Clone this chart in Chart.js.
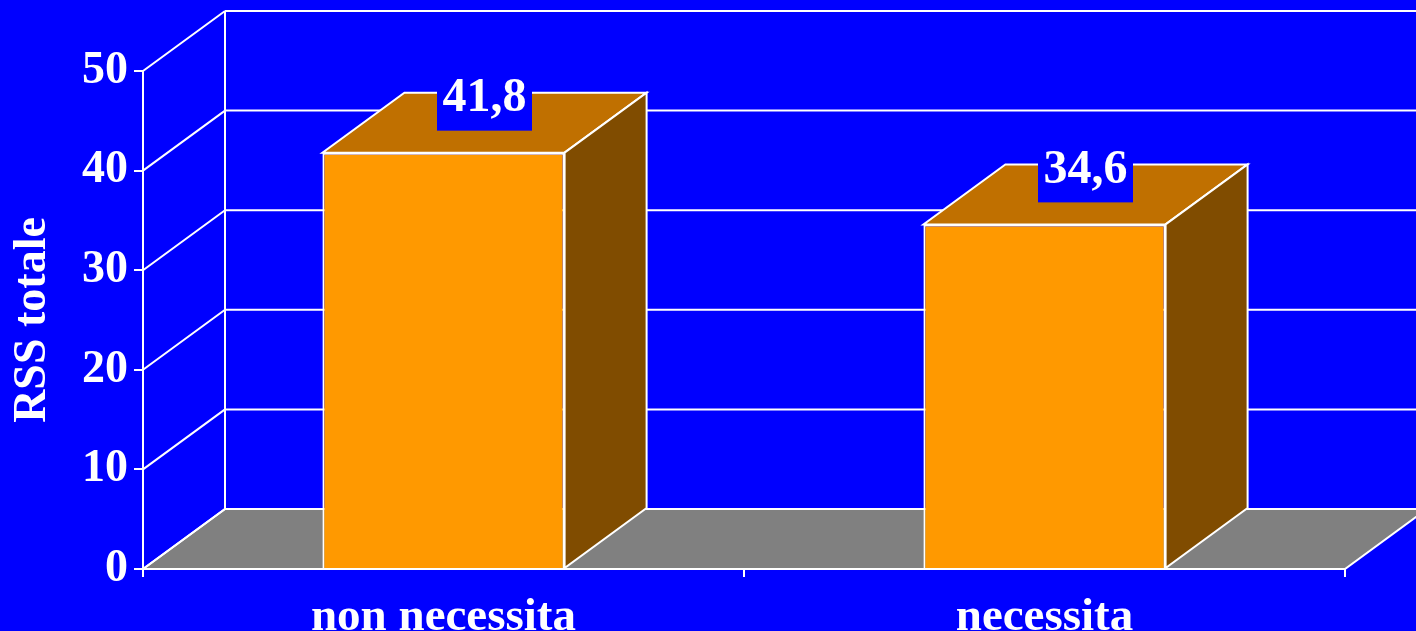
<!DOCTYPE html>
<html>
<head>
<meta charset="utf-8">
<script src="https://cdn.jsdelivr.net/npm/chart.js@4.4.0/dist/chart.umd.min.js"></script>
<style>
html, body { margin: 0; padding: 0; background: #0000ff; overflow: hidden; }
</style>
</head>
<body>
<canvas id="myChart" width="1416" height="631"></canvas>
<script>
var categories = ['non necessita', 'necessita'];
var rssValues = [41.8, 34.6];
var valueLabels = ['41,8', '34,6'];
var yMin = 0, yMax = 50, yStep = 10;

// depth of the fake 3d box
var depthX = 82;
var depthY = 60;
var serif = "'Liberation Serif', 'Times New Roman', serif";

function poly(ctx, pts, fill) {
    ctx.beginPath();
    ctx.moveTo(pts[0][0], pts[0][1]);
    for (var i = 1; i < pts.length; i++) ctx.lineTo(pts[i][0], pts[i][1]);
    ctx.closePath();
    ctx.fillStyle = fill;
    ctx.fill();
    ctx.stroke();
}

var box3d = {
    id: 'box3d',
    beforeDatasetsDraw: function(chart) {
        var ctx = chart.ctx, area = chart.chartArea, y = chart.scales.y;
        var y0 = y.getPixelForValue(yMin);
        ctx.save();
        ctx.strokeStyle = '#ffffff';
        ctx.lineWidth = 2;
        // floor
        poly(ctx, [[area.left, y0], [area.right, y0], [area.right + depthX, y0 - depthY], [area.left + depthX, y0 - depthY]], '#808080');
        // back wall + side wall lines
        ctx.beginPath();
        ctx.moveTo(area.left + depthX, y0 - depthY);
        ctx.lineTo(area.left + depthX, y.getPixelForValue(yMax) - depthY);
        y.ticks.forEach(function(t) {
            var py = y.getPixelForValue(t.value);
            ctx.moveTo(area.left, py);
            ctx.lineTo(area.left + depthX, py - depthY);
            if (t.value > yMin) {
                ctx.moveTo(area.left + depthX, py - depthY);
                ctx.lineTo(area.right + depthX, py - depthY);
            }
        });
        ctx.stroke();
        ctx.restore();
    },
    afterDatasetsDraw: function(chart) {
        var ctx = chart.ctx;
        var meta = chart.getDatasetMeta(0);
        ctx.save();
        ctx.strokeStyle = '#ffffff';
        ctx.lineWidth = 2;
        meta.data.forEach(function(bar, i) {
            var l = bar.x - bar.width / 2, r = bar.x + bar.width / 2;
            poly(ctx, [[l, bar.y], [r, bar.y], [r + depthX, bar.y - depthY], [l + depthX, bar.y - depthY]], '#c07000');
            poly(ctx, [[r, bar.y], [r + depthX, bar.y - depthY], [r + depthX, bar.base - depthY], [r, bar.base]], '#804c00');

            // value label in a blue box
            ctx.font = 'bold 48px ' + serif;
            var w = ctx.measureText(valueLabels[i]).width + 11;
            var cx = bar.x + depthX / 2;
            ctx.fillStyle = '#0000ff';
            ctx.fillRect(cx - w / 2, bar.y - 84, w, 62);
            ctx.fillStyle = '#ffffff';
            ctx.textAlign = 'center';
            ctx.textBaseline = 'middle';
            ctx.fillText(valueLabels[i], cx, bar.y - 54);
        });
        ctx.restore();
    }
};

var ctx = document.getElementById('myChart');
var myChart = new Chart(ctx, {
    type: 'bar',
    data: {
        labels: categories,
        datasets: [{
            label: 'RSS totale',
            data: rssValues,
            backgroundColor: '#ff9900',
            borderColor: '#ffffff',
            borderWidth: 2,
            barPercentage: 0.403,
            categoryPercentage: 1
        }]
    },
    options: {
        responsive: false,
        animation: false,
        layout: { padding: { top: 71, right: 71, left: 0, bottom: 0 } },
        plugins: {
            legend: { display: false },
            tooltip: { enabled: false }
        },
        scales: {
            x: {
                offset: true,
                grid: { display: true, drawOnChartArea: false, offset: true, tickLength: 8, color: '#ffffff', lineWidth: 2 },
                border: { display: true, color: '#ffffff', width: 2 },
                ticks: { color: '#ffffff', padding: 13, font: { family: serif, weight: 'bold', size: 47 } },
                afterFit: function(s) { s.height = 62; }
            },
            y: {
                min: yMin,
                max: yMax,
                grid: { display: true, drawOnChartArea: false, tickLength: 9, color: '#ffffff', lineWidth: 2 },
                border: { display: true, color: '#ffffff', width: 2 },
                ticks: { stepSize: yStep, color: '#ffffff', padding: 6, font: { family: serif, weight: 'bold', size: 46 } },
                title: {
                    display: true,
                    text: 'RSS totale',
                    color: '#ffffff',
                    padding: { top: 6, bottom: 0 },
                    font: { family: serif, weight: 'bold', size: 46 }
                },
                afterFit: function(s) { s.width = 143; }
            }
        }
    },
    plugins: [box3d]
});
</script>
</body>
</html>
